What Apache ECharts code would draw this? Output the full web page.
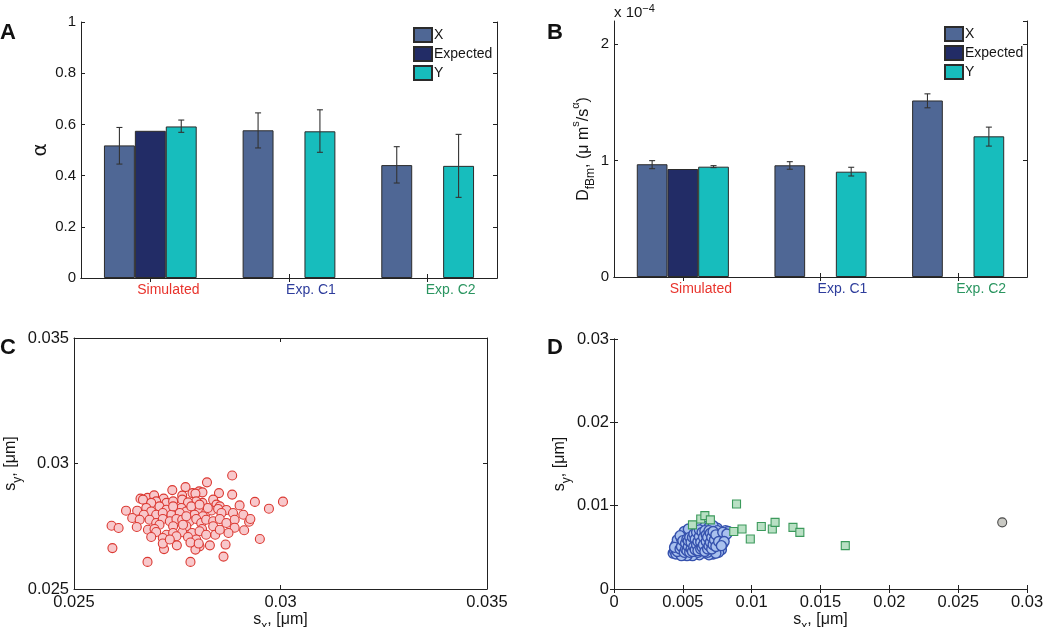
<!DOCTYPE html>
<html><head><meta charset="utf-8">
<script src="https://cdn.jsdelivr.net/npm/echarts@6/dist/echarts.min.js"></script>
<style>html,body{margin:0;padding:0;background:#fff}#c{width:1050px;height:627px}</style>
</head><body><div id="c"></div>
<script>
// ---------- DATA ----------
const categories = ['Simulated', 'Exp. C1', 'Exp. C2'];
const categoryColors = ['#e8332c', '#2e3d9c', '#2a9560'];

// Panel A: alpha
const alphaX = [0.518, 0.577, 0.441];
const alphaXLow = [0.445, 0.508, 0.371];
const alphaXHigh = [0.588, 0.645, 0.513];
const alphaExpected = [0.575, null, null];
const alphaY = [0.592, 0.573, 0.438];
const alphaYLow = [0.569, 0.491, 0.315];
const alphaYHigh = [0.617, 0.657, 0.561];

// Panel B: D_fBm (units of 1e-4)
const dX = [0.969, 0.960, 1.517];
const dXLow = [0.931, 0.926, 1.454];
const dXHigh = [1.000, 0.991, 1.574];
const dExpected = [0.928, null, null];
const dY = [0.948, 0.905, 1.209];
const dYLow = [0.940, 0.868, 1.125];
const dYHigh = [0.957, 0.943, 1.288];

// Panel C: simulated localisation errors [sx, sy]
const simPoints = [
[0.02883,0.02952],[0.02822,0.02925],[0.02770,0.02906],[0.02738,0.02894],[0.02803,0.02889],[0.02811,0.02885],[0.02787,0.02882],[0.02762,0.02872],[0.02794,0.02880],
[0.02851,0.02882],[0.02883,0.02876],[0.02661,0.02860],[0.02678,0.02863],[0.02694,0.02873],[0.02717,0.02860],[0.02699,0.02849],[0.02762,0.02856],[0.02667,0.02856],[0.02687,0.02843],[0.02724,0.02843],[0.02740,0.02849],[0.02811,0.02843],[0.02837,0.02856],[0.02845,0.02836],[0.02853,0.02829],[0.02901,0.02833],[0.02938,0.02847],[0.03006,0.02848],[0.02796,0.02849],[0.02776,0.02845],
[0.02626,0.02812],[0.02653,0.02812],[0.02675,0.02823],[0.02707,0.02829],[0.02724,0.02816],[0.02748,0.02816],[0.02760,0.02823],[0.02772,0.02809],[0.02784,0.02829],[0.02804,0.02816],[0.02820,0.02805],[0.02833,0.02813],[0.02849,0.02819],[0.02869,0.02815],[0.02885,0.02803],[0.02910,0.02796],[0.02972,0.02820],[0.02687,0.02809],[0.02699,0.02796],[0.02715,0.02803],[0.02736,0.02796],[0.02756,0.02803],[0.02792,0.02796],[0.02812,0.02790],[0.02824,0.02823],[0.02857,0.02803],[0.02669,0.02796],[0.02641,0.02783],
[0.02659,0.02776],[0.02683,0.02776],[0.02699,0.02763],[0.02715,0.02779],[0.02732,0.02770],[0.02748,0.02779],[0.02762,0.02776],[0.02780,0.02770],[0.02796,0.02779],[0.02808,0.02763],[0.02820,0.02776],[0.02837,0.02770],[0.02853,0.02779],[0.02869,0.02763],[0.02889,0.02776],[0.02924,0.02768],[0.02927,0.02779],[0.02837,0.02750],[0.02772,0.02750],[0.02740,0.02750],[0.02707,0.02756],[0.02889,0.02744],[0.02591,0.02752],[0.02608,0.02743],[0.02652,0.02747],[0.02679,0.02736],[0.02695,0.02739],
[0.02699,0.02727],[0.02724,0.02716],[0.02740,0.02723],[0.02762,0.02726],[0.02786,0.02723],[0.02810,0.02739],[0.02842,0.02716],[0.02874,0.02723],[0.02912,0.02734],[0.02687,0.02707],[0.02804,0.02730],[0.02820,0.02716],[0.02853,0.02736],[0.02715,0.02703],[0.02748,0.02710],[0.02776,0.02707],[0.02796,0.02697],[0.02950,0.02699],
[0.02829,0.02674],[0.02804,0.02670],[0.02794,0.02657],[0.02718,0.02659],[0.02715,0.02681],[0.02749,0.02674],[0.02782,0.02685],[0.02732,0.02697],[0.02593,0.02663],[0.02862,0.02629],[0.02678,0.02608],[0.02782,0.02608],[0.02867,0.02677],[0.02802,0.02681],
[0.02772,0.02790],[0.02804,0.02836],[0.02740,0.02829],[0.02764,0.02756]
];

// Panel D: experimental condition 1 (blue circles)
const c1Points = [
[0.0043,0.0043],[0.0044,0.0046],[0.0045,0.0042],[0.0046,0.0049],[0.0047,0.0044],[0.0048,0.0052],[0.0049,0.0047],[0.0045,0.0053],[0.0047,0.0056],[0.0050,0.0043],
[0.0051,0.0050],[0.0052,0.0046],[0.0050,0.0055],[0.0052,0.0058],[0.0053,0.0053],[0.0054,0.0042],[0.0055,0.0049],[0.0055,0.0056],[0.0056,0.0045],[0.0054,0.0061],
[0.0056,0.0064],[0.0057,0.0052],[0.0058,0.0048],[0.0058,0.0059],[0.0059,0.0043],[0.0060,0.0055],[0.0060,0.0062],[0.0061,0.0049],[0.0061,0.0068],[0.0062,0.0058],
[0.0063,0.0045],[0.0063,0.0052],[0.0064,0.0065],[0.0064,0.0060],[0.0065,0.0047],[0.0065,0.0071],[0.0066,0.0055],[0.0067,0.0062],[0.0067,0.0043],[0.0068,0.0050],
[0.0068,0.0068],[0.0069,0.0058],[0.0070,0.0046],[0.0070,0.0064],[0.0071,0.0053],[0.0071,0.0072],[0.0072,0.0060],[0.0073,0.0049],[0.0073,0.0067],[0.0074,0.0056],
[0.0075,0.0063],[0.0075,0.0073],[0.0076,0.0051],[0.0077,0.0059],[0.0078,0.0066],[0.0078,0.0047],[0.0079,0.0054],[0.0080,0.0062],[0.0081,0.0070],[0.0083,0.0069],
[0.0076,0.0044],[0.0072,0.0042],[0.0069,0.0041],[0.0062,0.0041],[0.0057,0.0040],[0.0053,0.0040],[0.0049,0.0040],[0.0046,0.0059],[0.0049,0.0060],[0.0052,0.0065],
[0.0055,0.0068],[0.0058,0.0070],[0.0060,0.0074],[0.0063,0.0076],[0.0066,0.0075],[0.0069,0.0074],[0.0072,0.0076],[0.0075,0.0070],[0.0051,0.0069],[0.0054,0.0072],
[0.0048,0.0064],[0.0053,0.0050],[0.0056,0.0053],[0.0059,0.0056],[0.0062,0.0050],[0.0065,0.0059],[0.0068,0.0055],[0.0070,0.0059],[0.0064,0.0054],[0.0066,0.0066],
[0.0059,0.0065],[0.0061,0.0044],[0.0068,0.0044],[0.0074,0.0043],[0.0050,0.0046],[0.0054,0.0055],[0.0057,0.0057],[0.0060,0.0051],[0.0063,0.0063],[0.0067,0.0052],
[0.0072,0.0057],[0.0077,0.0062],[0.0069,0.0061],[0.0056,0.0060],[0.0051,0.0053],[0.0046,0.0045],[0.0044,0.0050],
[0.0048,0.0048],[0.0049,0.0051],[0.0050,0.0058],[0.0051,0.0044],[0.0052,0.0048],[0.0052,0.0055],[0.0053,0.0060],[0.0053,0.0046],[0.0054,0.0051],[0.0054,0.0058],
[0.0055,0.0044],[0.0055,0.0062],[0.0056,0.0048],[0.0056,0.0056],[0.0057,0.0045],[0.0057,0.0062],[0.0058,0.0051],[0.0058,0.0066],[0.0059,0.0047],[0.0059,0.0060],
[0.0060,0.0053],[0.0060,0.0068],[0.0061,0.0046],[0.0061,0.0057],[0.0062,0.0063],[0.0062,0.0071],[0.0063,0.0048],[0.0063,0.0056],[0.0064,0.0050],[0.0064,0.0068],
[0.0065,0.0062],[0.0065,0.0053],[0.0066,0.0045],[0.0066,0.0070],[0.0067,0.0057],[0.0067,0.0065],[0.0068,0.0048],[0.0068,0.0062],[0.0069,0.0052],[0.0069,0.0070],
[0.0070,0.0056],[0.0070,0.0067],[0.0071,0.0048],[0.0071,0.0062],[0.0072,0.0053],[0.0072,0.0069],[0.0073,0.0059],[0.0074,0.0065],[0.0074,0.0051],[0.0076,0.0057],
[0.0079,0.0068],[0.0082,0.0066],[0.0080,0.0057],[0.0078,0.0052]
];
// Panel D: experimental condition 2 (green squares)
const c2Points = [
[0.0057,0.0077],[0.0063,0.0084],[0.0066,0.0088],[0.0070,0.0083],[0.0089,0.0102],[0.0087,0.0069],[0.0093,0.0072],
[0.0099,0.0060],[0.0107,0.0075],[0.0115,0.0072],[0.0117,0.0080],[0.0130,0.0074],[0.0135,0.0068],[0.0168,0.0052]
];
// Panel D: single grey point
const greyPoints = [[0.0282,0.0080]];

// ---------- STYLE ----------
const FONT = '"Liberation Sans", Arial, Helvetica, sans-serif';
const AX = '#222';
const TXT = '#151515';
const colX = '#4f6795', colE = '#222c66', colY = '#17bdbd';

function mirrorX(grid, type, extra) {
  return Object.assign({gridIndex: grid, type: type, position: 'top',
    axisLine: {show: true, lineStyle: {color: AX, width: 1}},
    axisTick: {show: true, inside: true, length: 4, lineStyle: {color: AX}},
    axisLabel: {show: false}, splitLine: {show: false}}, extra);
}
function mirrorY(grid, extra) {
  return Object.assign({gridIndex: grid, type: 'value', position: 'right',
    axisLine: {show: true, lineStyle: {color: AX, width: 1}},
    axisTick: {show: true, inside: true, length: 4, lineStyle: {color: AX}},
    axisLabel: {show: false}, splitLine: {show: false}}, extra);
}
const catRich = {
  c0: {color: categoryColors[0], fontSize: 14, fontFamily: FONT, padding: [0, 0, 0, 36]},
  c1: {color: categoryColors[1], fontSize: 14, fontFamily: FONT, padding: [0, 0, 0, 44]},
  c2: {color: categoryColors[2], fontSize: 14, fontFamily: FONT, padding: [0, 0, 0, 46]}
};
function catAxis(grid) {
  return {gridIndex: grid, type: 'category', data: categories, position: 'bottom',
    axisLine: {show: true, lineStyle: {color: AX, width: 1}},
    axisTick: {show: true, inside: true, length: 4, alignWithLabel: true, lineStyle: {color: AX}},
    axisLabel: {margin: 5, formatter: (v, i) => '{c' + i + '|' + v + '}', rich: catRich},
    splitLine: {show: false}};
}
function valAxis(grid, pos, min, max, interval, fontSize, extra) {
  return Object.assign({gridIndex: grid, type: 'value', position: pos, min: min, max: max, interval: interval,
    axisLine: {show: true, onZero: false, lineStyle: {color: AX, width: 1}},
    axisTick: {show: true, inside: true, length: 4, lineStyle: {color: AX}},
    axisLabel: {color: TXT, fontSize: fontSize, fontFamily: FONT, margin: 5},
    splitLine: {show: false}}, extra);
}
const nameRich = {
  a: {fontSize: 16, fontFamily: FONT, color: TXT, lineHeight: 26},
  sub: {fontSize: 12, fontFamily: FONT, color: TXT, lineHeight: 12, verticalAlign: 'bottom'},
  sup: {fontSize: 11, fontFamily: FONT, color: TXT, lineHeight: 11, verticalAlign: 'top'}
};

function errSeries(xi, yi, low, high, frac) {
  return {
    type: 'custom', xAxisIndex: xi, yAxisIndex: yi, silent: true, z: 10,
    data: low.map((l, i) => [i, l, high[i]]),
    encode: {x: 0, y: [1, 2]},
    renderItem: function (params, api) {
      const i = api.value(0);
      const lo = api.coord([i, api.value(1)]);
      const hi = api.coord([i, api.value(2)]);
      const bw = api.size([1, 0])[0];
      const x = lo[0] + frac * bw;
      const cap = 3;
      const st = {stroke: '#333', lineWidth: 1.1};
      return {type: 'group', children: [
        {type: 'line', shape: {x1: x, y1: lo[1], x2: x, y2: hi[1]}, style: st},
        {type: 'line', shape: {x1: x - cap, y1: lo[1], x2: x + cap, y2: lo[1]}, style: st},
        {type: 'line', shape: {x1: x - cap, y1: hi[1], x2: x + cap, y2: hi[1]}, style: st}
      ]};
    }
  };
}
function barSeries(name, data, color, xi, yi) {
  return {type: 'bar', name: name, data: data, xAxisIndex: xi, yAxisIndex: yi,
    barWidth: '22.3%', barGap: '0%', silent: true,
    itemStyle: {color: color, borderColor: '#2b2b2b', borderWidth: 1}};
}
const OFF = 0.223;

const legendBase = {orient: 'vertical', icon: 'rect', itemWidth: 18, itemHeight: 14, itemGap: 3, padding: 0,
  data: ['X', 'Expected', 'Y'], selectedMode: false,
  textStyle: {fontSize: 14, fontFamily: FONT, color: TXT, padding: [0, 0, 0, -3]}};

const option = {
  animation: false,
  backgroundColor: '#fff',
  textStyle: {fontFamily: FONT},
  grid: [
    {left: 81, top: 22, width: 416, height: 256, outerBoundsMode: 'none'},
    {left: 614, top: 21, width: 413, height: 256, outerBoundsMode: 'none'},
    {left: 74, top: 338, width: 413, height: 251, outerBoundsMode: 'none'},
    {left: 614, top: 339, width: 413, height: 250, outerBoundsMode: 'none'}
  ],
  legend: [
    Object.assign({left: 413, top: 27}, legendBase),
    Object.assign({left: 944, top: 26}, legendBase)
  ],
  xAxis: [
    catAxis(0),
    mirrorX(0, 'category', {data: categories, axisTick: {show: true, inside: true, length: 4, alignWithLabel: true, lineStyle: {color: AX}}}),
    catAxis(1),
    mirrorX(1, 'category', {data: categories, axisTick: {show: true, inside: true, length: 4, alignWithLabel: true, lineStyle: {color: AX}}}),
    valAxis(2, 'bottom', 0.025, 0.035, 0.005, 16.5, {
      name: '{a|s}{sub|x}{a|, [μm]}', nameLocation: 'middle', nameGap: 4,
      nameTextStyle: {rich: nameRich}}),
    mirrorX(2, 'value', {min: 0.025, max: 0.035, interval: 0.005}),
    valAxis(3, 'bottom', 0, 0.03, 0.005, 16.5, {
      name: '{a|s}{sub|x}{a|, [μm]}', nameLocation: 'middle', nameGap: 4,
      nameTextStyle: {rich: nameRich}}),
    mirrorX(3, 'value', {min: 0, max: 0.03, interval: 0.005})
  ],
  yAxis: [
    valAxis(0, 'left', 0, 1, 0.2, 15, {
      name: '{al|α}', nameLocation: 'middle', nameGap: 25, nameRotate: 90,
      nameTextStyle: {rich: {al: {fontSize: 20, fontFamily: '"DejaVu Sans", sans-serif', color: TXT, lineHeight: 26}}}}),
    mirrorY(0, {min: 0, max: 1, interval: 0.2}),
    valAxis(1, 'left', 0, 2.2, 1, 15, {
      axisLabel: {color: TXT, fontSize: 15, fontFamily: FONT, margin: 5, showMaxLabel: false},
      name: '{a|D}{sub|fBm}{a|, (μ m}{sup|s}{a|/s}{sup|α}{a|)}', nameLocation: 'middle', nameGap: 14, nameRotate: 90,
      nameTextStyle: {rich: nameRich}}),
    mirrorY(1, {min: 0, max: 2.2, interval: 1}),
    valAxis(2, 'left', 0.025, 0.035, 0.005, 16.5, {
      name: '{a|s}{sub|y}{a|, [μm]}', nameLocation: 'middle', nameGap: 42, nameRotate: 90,
      nameTextStyle: {rich: nameRich}}),
    mirrorY(2, {min: 0.025, max: 0.035, interval: 0.005}),
    valAxis(3, 'left', 0, 0.03, 0.01, 16.5, {
      name: '{a|s}{sub|y}{a|, [μm]}', nameLocation: 'middle', nameGap: 38, nameRotate: 90,
      nameTextStyle: {rich: nameRich}}),
    mirrorY(3, {min: 0, max: 0.03, interval: 0.01})
  ],
  series: [
    barSeries('X', alphaX, colX, 0, 0),
    barSeries('Expected', alphaExpected, colE, 0, 0),
    barSeries('Y', alphaY, colY, 0, 0),
    errSeries(0, 0, alphaXLow, alphaXHigh, -OFF),
    errSeries(0, 0, alphaYLow, alphaYHigh, OFF),
    barSeries('X', dX, colX, 2, 2),
    barSeries('Expected', dExpected, colE, 2, 2),
    barSeries('Y', dY, colY, 2, 2),
    errSeries(2, 2, dXLow, dXHigh, -OFF),
    errSeries(2, 2, dYLow, dYHigh, OFF),
    {type: 'scatter', name: 'sim', data: simPoints, xAxisIndex: 4, yAxisIndex: 4, symbol: 'circle', symbolSize: 9, silent: true,
      itemStyle: {color: '#f8c8cb', borderColor: '#db3932', borderWidth: 1.1, opacity: 1}},
    {type: 'scatter', name: 'c1', data: c1Points, xAxisIndex: 6, yAxisIndex: 6, symbol: 'circle', symbolSize: 10, silent: true,
      itemStyle: {color: '#a9c1ee', borderColor: '#3551ad', borderWidth: 1.4, opacity: 1}},
    {type: 'scatter', name: 'c2', data: c2Points, xAxisIndex: 6, yAxisIndex: 6, symbol: 'rect', symbolSize: 8, silent: true,
      itemStyle: {color: '#b9e0c4', borderColor: '#3c9a5c', borderWidth: 1.1, opacity: 1}},
    {type: 'scatter', name: 'grey', data: greyPoints, xAxisIndex: 6, yAxisIndex: 6, symbol: 'circle', symbolSize: 9, silent: true,
      itemStyle: {color: '#c9c9c3', borderColor: '#4a4a4a', borderWidth: 1.1, opacity: 1}}
  ],
  graphic: [
    {type: 'text', left: 0, top: 22, style: {text: 'A', font: 'bold 22px ' + FONT, fill: '#111'}},
    {type: 'text', left: 547, top: 22, style: {text: 'B', font: 'bold 22px ' + FONT, fill: '#111'}},
    {type: 'text', left: 0, top: 337, style: {text: 'C', font: 'bold 22px ' + FONT, fill: '#111'}},
    {type: 'text', left: 547, top: 337, style: {text: 'D', font: 'bold 22px ' + FONT, fill: '#111'}},
    {type: 'text', left: 614, top: 3, style: {text: '{a|x 10}{s|−4}', rich: {
      a: {fontSize: 15, fontFamily: FONT, fill: TXT, lineHeight: 20},
      s: {fontSize: 11, fontFamily: FONT, fill: TXT, lineHeight: 11, verticalAlign: 'top'}}}}
  ]
};
const chart = echarts.init(document.getElementById('c'), null, {renderer: 'canvas'});
chart.setOption(option);
</script></body></html>
